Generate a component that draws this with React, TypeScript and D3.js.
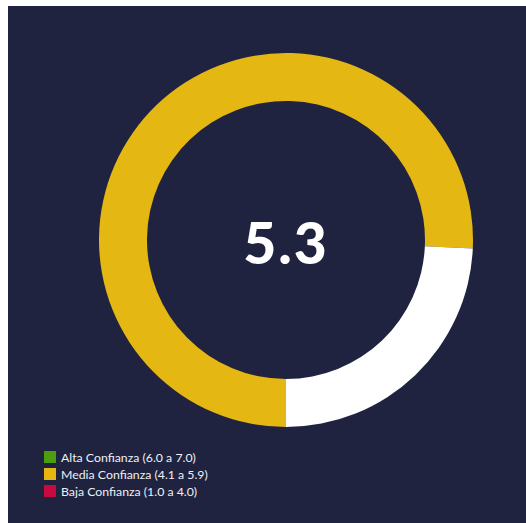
import React from "react";
import * as d3 from "d3";

const score = 5.3;
const maxScore = 7;
const legendLabels = ["Alta Confianza (6.0 a 7.0)", "Media Confianza (4.1 a 5.9)", "Baja Confianza (1.0 a 4.0)"];
const legendColors = ["#4b9f0e", "#e4b713", "#c90a40"];

export default function App() {
  const W = 526, H = 523;
  const cx = 286, cy = 240, rOuter = 187, rInner = 139;
  const angle = d3.scaleLinear().domain([0, maxScore]).range([Math.PI, 3 * Math.PI]);
  const arc = d3.arc<any>().innerRadius(rInner).outerRadius(rOuter);
  const valuePath = arc({ startAngle: angle(0), endAngle: angle(score) } as any) || "";
  const restPath = arc({ startAngle: angle(score), endAngle: angle(maxScore) } as any) || "";
  const legendY = d3.scaleBand<number>().domain([0, 1, 2]).range([451, 502]);
  return (
    <svg width={W} height={H} style={{ position: "absolute", left: 0, top: 0 }}>
      <rect x={8} y={6} width={W - 8} height={H - 6} fill="#1f2340" />
      <g transform={`translate(${cx},${cy})`}>
        <path d={valuePath} fill="#e4b713" />
        <path d={restPath} fill="#ffffff" />
        <text x={0} y={2} textAnchor="middle" dominantBaseline="central" fill="#ffffff"
          fontFamily="Lato, 'Open Sans', sans-serif" fontWeight={900} fontSize={57} letterSpacing={2}>
          {score.toFixed(1)}
        </text>
      </g>
      {legendLabels.map((l, i) => (
        <g key={l} transform={`translate(44,${legendY(i)})`}>
          <rect x={0} y={0} width={12} height={12} fill={legendColors[i]} />
          <text x={17} y={6} dominantBaseline="central" fill="#eef0f5"
            fontFamily="Lato, 'Open Sans', sans-serif" fontSize={12.3}>{l}</text>
        </g>
      ))}
    </svg>
  );
}
